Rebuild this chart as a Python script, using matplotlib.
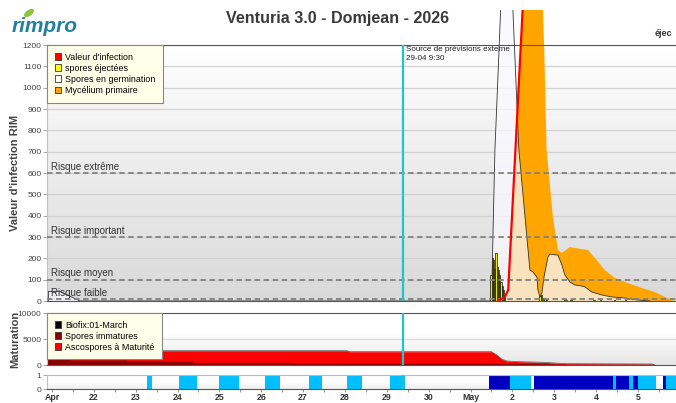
import numpy as np
import matplotlib
matplotlib.use('Agg')
import matplotlib.pyplot as plt
from matplotlib.patches import Patch, Ellipse
from matplotlib.transforms import Bbox, TransformedBbox, IdentityTransform

plt.rcParams['font.family'] = ['Liberation Sans', 'DejaVu Sans']

# x values are days counted from 21 April 00:00
day_labels = ['Apr', '22', '23', '24', '25', '26', '27', '28', '29', '30', 'May', '2', '3', '4', '5']

# Mycélium primaire
myc_t = [10.822, 10.901, 11.073, 11.245, 11.491, 11.730, 11.760, 11.818, 11.968, 12.088, 12.184,
         12.375, 12.494, 12.805, 12.972, 13.211, 13.450, 13.760, 14.095, 14.405, 14.644, 14.811, 14.859]
myc_v = [0, 52, 708, 1364, 3000, 1364, 1190, 708, 394, 239, 225,
         253, 248, 239, 201, 145, 108, 84, 61, 42, 19, 5, 0]

# Spores en germination
germ_t = [-0.09, -0.085, 0.19, 0.67, 10.487, 10.511, 10.547, 10.583, 10.655, 10.719, 10.798, 10.870,
          10.941, 11.013, 11.085, 11.156, 11.228, 11.323, 11.419, 11.491, 11.587, 11.610, 11.658,
          11.706, 11.754, 11.849, 11.897, 12.088, 12.184, 12.255, 12.375, 12.494, 12.614, 12.733,
          12.900, 13.139, 13.378, 13.689, 13.975, 14.166, 14.286]
germ_v = [0, 45, 45, 0, 0, 80, 400, 708, 1050, 1364, 1750, 2000,
          1700, 1364, 1030, 708, 555, 350, 145, 136, 112, 52, 19,
          38, 110, 206, 220, 215, 169, 122, 89, 75, 72, 66,
          42, 28, 19, 14, 5, 2, 0]

# spores éjectées
spore_t = [10.49, 10.52, 10.55, 10.58, 10.61, 10.64, 10.67, 10.70, 10.73, 10.76, 10.79, 10.82,
           11.66, 11.70, 11.74, 11.78, 11.82, 12.25, 12.30, 12.40, 12.95, 13.10, 13.45, 13.70]
spore_v = [120, 200, 190, 150, 225, 160, 145, 120, 90, 70, 50, 25,
           25, 30, 15, 10, 8, 5, 6, 4, 4, 3, 5, 3]

# Valeur d'infection
inf_t = [10.655, 10.822, 10.901, 11.073, 11.245, 11.658]
inf_v = [0, 20, 52, 708, 1364, 2940]

risk_vals = [600, 300, 100, 10]
risk_labels = ['Risque extrême', 'Risque important', 'Risque moyen', 'Risque faible']

# Maturation
tot_t = [-0.12, 7.05, 7.1, 10.5, 10.63, 10.75, 10.87, 11.18, 11.73, 12.30, 14.36, 14.40]
tot_v = [2750, 2750, 2560, 2560, 1920, 1100, 770, 640, 520, 250, 190, 0]
imm_t = [-0.12, 0.43, 0.43, 1.79, 1.79, 3.37, 3.37, 5.76, 5.76, 10.5, 10.87, 11.18, 11.73, 12.30, 14.36, 14.40]
imm_v = [1290, 1290, 960, 960, 770, 770, 510, 510, 320, 320, 300, 300, 250, 150, 130, 0]

# humectation
wet_light = [(2.27, 2.39), (3.03, 3.46), (3.99, 4.47), (5.09, 5.45), (6.14, 6.45), (7.05, 7.41),
             (8.07, 8.43), (10.94, 11.44), (13.40, 13.47), (13.78, 13.88), (14.00, 14.43), (14.67, 14.95)]
wet_dark = [(10.44, 10.94), (11.51, 13.40), (13.47, 13.78), (13.88, 14.00), (14.60, 14.67)]

forecast_t = 8.396

W, H = 676, 403
XMIN, XMAX = -0.12, 14.91


def fbox(x0, y0, x1, y1):
    return [x0 / W, 1 - y1 / H, (x1 - x0) / W, (y1 - y0) / H]


def gradient(a, top, bottom, start=0.0):
    g = np.linspace(0, 1, 200)
    g = np.clip((g - start) / (1 - start), 0, 1).reshape(-1, 1, 1)
    top = np.array(matplotlib.colors.to_rgb(top))
    bottom = np.array(matplotlib.colors.to_rgb(bottom))
    img = top * (1 - g) + bottom * g
    a.imshow(img, extent=[0, 1, 0, 1], transform=a.transAxes, aspect='auto', zorder=0)


fig = plt.figure(figsize=(W / 100, H / 100), dpi=100)
ax = fig.add_axes(fbox(47, 45, 676, 301))
ax_m = fig.add_axes(fbox(47, 313, 676, 365))
ax_w = fig.add_axes(fbox(47, 375, 676, 389))

# main panel
gradient(ax, '#ffffff', '#d9d9d9')
for v in range(100, 1201, 100):
    ax.axhline(v, color='#d2d2d2', lw=0.9, zorder=1)
for v, lab in zip(risk_vals, risk_labels):
    ax.axhline(v, color='#808080', lw=1.3, ls=(0, (3, 2)), zorder=4)
    ax.text(-0.02, v + 6, lab, fontsize=7, color='#333333', va='bottom', ha='left', zorder=4)

clipbox = TransformedBbox(Bbox([[47 / W, 102 / H], [1.0, 393 / H]]), fig.transFigure)
arts = []
arts.append(ax.fill_between(myc_t, myc_v, color='#ffa500', lw=0, zorder=2))
arts.append(ax.fill_between(germ_t, germ_v, color='#f8f8ff', alpha=0.75, lw=0, zorder=2.5))
arts += ax.plot(germ_t, germ_v, color='#333333', lw=0.6, zorder=2.6)
ax.bar(spore_t, spore_v, width=0.028, color='#e8e800', edgecolor='#111111', lw=0.5, zorder=3)
arts += ax.plot(inf_t, inf_v, color='#ff0000', lw=1.6, zorder=5)
for a in arts:
    a.set_clip_path(None)
    a.set_clip_box(clipbox)

ax.text(forecast_t + 0.07, 1193, 'Source de prévisions externe\n29-04 9:30', fontsize=5.8,
        color='#222222', va='top', ha='left', linespacing=1.25, zorder=6)

ax.set_yticks(range(0, 1201, 100))
ax.set_ylim(0, 1200)

# maturation panel
gradient(ax_m, '#ffffff', '#e6e6e6', start=0.4)
ax_m.axhline(5000, color='#dddddd', lw=1.0, zorder=1)
ax_m.fill_between(tot_t, tot_v, color='#ff0000', lw=0, zorder=2)
ax_m.plot(tot_t, tot_v, color='#555555', lw=0.5, zorder=2.2)
ax_m.fill_between(imm_t, imm_v, color='#8b0000', lw=0, zorder=2.5)
ax_m.set_ylim(0, 10000)
ax_m.set_yticks([0, 5000, 10000])

# humectation panel
gradient(ax_w, '#ffffff', '#eeeeee', start=0.5)
ax_w.bar([s for s, e in wet_light], 1, width=[e - s for s, e in wet_light], align='edge',
         color='#00bfff', lw=0, zorder=2)
ax_w.bar([s for s, e in wet_dark], 1, width=[e - s for s, e in wet_dark], align='edge',
         color='#0000c0', lw=0, zorder=2)
ax_w.set_ylim(0, 1)
ax_w.set_yticks([0, 1])

for a in (ax, ax_m, ax_w):
    a.set_xlim(XMIN, XMAX)
    a.axvline(forecast_t, color='#1cc6cf', lw=1.6, zorder=6)
    a.tick_params(axis='y', labelsize=6, labelcolor='#444444', length=3, width=0.6,
                  color='#999999', pad=1)
    a.spines['right'].set_visible(False)
    a.spines['left'].set_color('#c0c0c0')
    a.spines['top'].set_color('#555555')
    a.spines['bottom'].set_color('#555555')
    for s in a.spines.values():
        s.set_linewidth(0.8)

ax_w.spines['top'].set_color('#bbbbbb')
for a in (ax, ax_m):
    a.tick_params(axis='x', bottom=False, labelbottom=False)

ax_w.set_xticks(range(len(day_labels)))
ax_w.set_xticklabels(day_labels)
ax_w.set_xticks(np.arange(0.5, 15, 1), minor=True)
ax_w.tick_params(axis='x', which='both', length=2.5, width=0.6, color='#888888', pad=0.5)
for t in ax_w.get_xticklabels():
    t.set_fontsize(6.3)
    t.set_fontweight('bold')
    t.set_color('#333333')

# texts
fig.text(0.5, 1 - 18 / H, 'Venturia 3.0 - Domjean - 2026', ha='center', va='center',
         fontsize=11.6, fontweight='bold', color='#3a3a3a')
fig.text(655 / W, 1 - 33 / H, 'éjec', ha='left', va='center', fontsize=6.5,
         fontweight='bold', color='#333333')
fig.text(15 / W, 1 - 173 / H, "Valeur d'infection RIM", rotation=90, ha='center', va='center',
         fontsize=8, fontweight='bold', color='#444444')
fig.text(15 / W, 1 - 339 / H, 'Maturation', rotation=90, ha='center', va='center',
         fontsize=8, fontweight='bold', color='#444444')

# logo
fig.text(12 / W, 1 - 27 / H, 'rimpro', ha='left', va='center', fontsize=15,
         style='italic', fontweight='bold', color='#22809f')
fig.add_artist(Ellipse((29, H - 13), 10, 4.5, angle=35, transform=IdentityTransform(),
                       color='#8cc63f'))

# legends
main_handles = [Patch(facecolor='#ff0000', edgecolor='#333333', lw=0.6),
                Patch(facecolor='#ffff00', edgecolor='#333333', lw=0.6),
                Patch(facecolor='#ffffff', edgecolor='#333333', lw=0.6),
                Patch(facecolor='#ffa500', edgecolor='#333333', lw=0.6)]
main_labels = ["Valeur d'infection", 'spores éjectées', 'Spores en germination', 'Mycélium primaire']
mat_handles = [Patch(facecolor='#000000', edgecolor='#333333', lw=0.6),
               Patch(facecolor='#8b0000', edgecolor='#333333', lw=0.6),
               Patch(facecolor='#ff0000', edgecolor='#333333', lw=0.6)]
mat_labels = ['Biofix:01-March', 'Spores immatures', 'Ascospores à Maturité']

for hs, ls, y in ((main_handles, main_labels, 45), (mat_handles, mat_labels, 313)):
    leg = fig.legend(hs, ls, loc='upper left', bbox_to_anchor=(47 / W, 1 - y / H), fontsize=6.4,
                     frameon=True, fancybox=False, facecolor='#fffee8', edgecolor='#888888',
                     handlelength=0.75, handleheight=0.75, handletextpad=0.45, labelspacing=0.24,
                     borderpad=0.85, borderaxespad=0)
    leg.get_frame().set_linewidth(0.8)
    leg.get_frame().set_alpha(1)

fig.savefig('out.png', dpi=100)
